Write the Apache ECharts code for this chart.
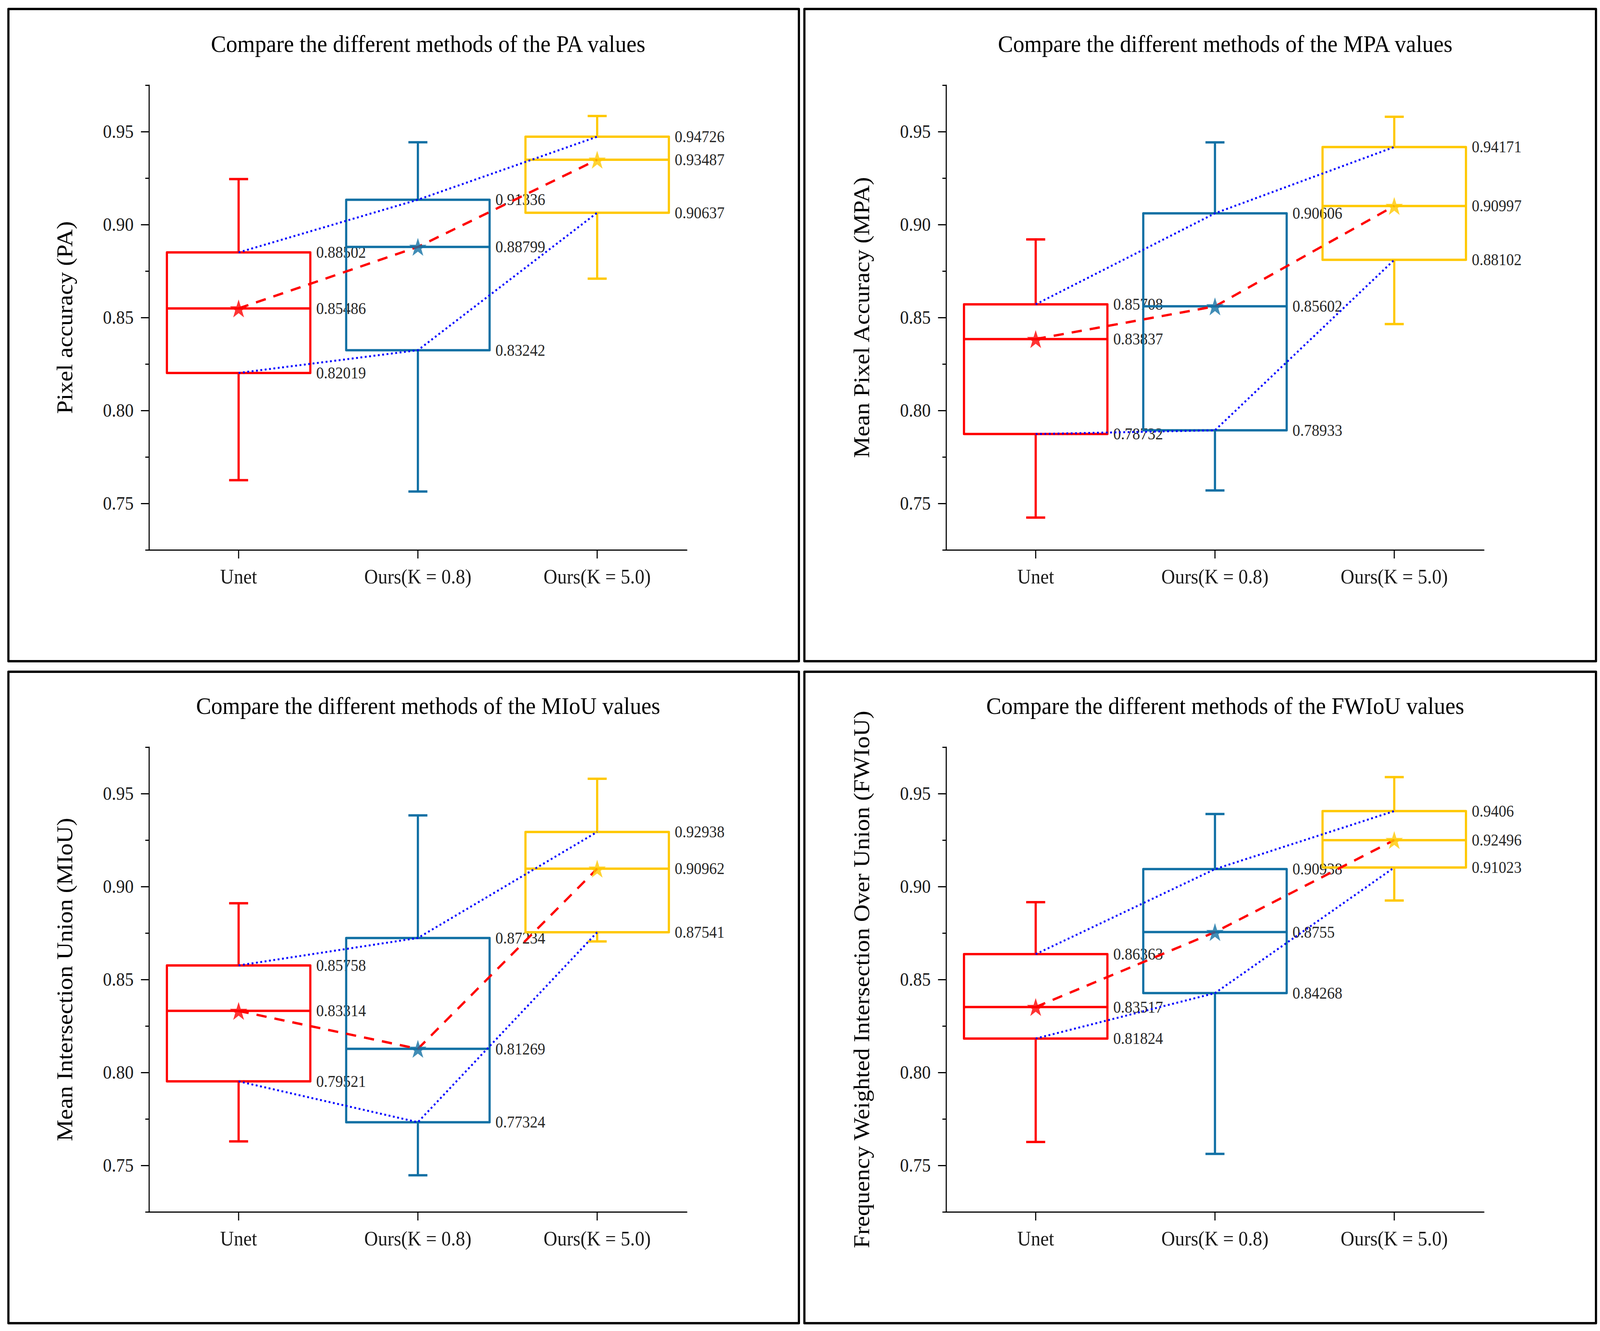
<!DOCTYPE html>
<html>
<head>
<meta charset="utf-8">
<script src="https://cdn.jsdelivr.net/npm/echarts@6/dist/echarts.min.js"></script>
<style>
html,body{margin:0;padding:0;background:#ffffff;overflow:hidden;}
#wrap{width:4382px;height:3408px;transform-origin:0 0;}
#chart{width:4382px;height:3408px;}
</style>
</head>
<body>
<div id="wrap"><div id="chart"></div></div>
<script>
// ---------- data ----------
const categories = ['Unet', 'Ours(K = 0.8)', 'Ours(K = 5.0)'];
const panelTitles = [
  'Compare the different methods of the PA values',
  'Compare the different methods of the MPA values',
  'Compare the different methods of the MIoU values',
  'Compare the different methods of the FWIoU values'
];
const axisNames = [
  'Pixel accuracy (PA)',
  'Mean Pixel Accuracy (MPA)',
  'Mean Intersection Union (MIoU)',
  'Frequency Weighted Intersection Over Union (FWIoU)'
];
const yMajorTicks = [0.75, 0.80, 0.85, 0.90, 0.95];
const yMinorTicks = [0.725, 0.775, 0.825, 0.875, 0.925, 0.975];

// PA
const paLow    = [0.7625, 0.7564, 0.8709];
const paQ1     = [0.82019, 0.83242, 0.90637];
const paMedian = [0.85486, 0.88799, 0.93487];
const paQ3     = [0.88502, 0.91336, 0.94726];
const paHigh   = [0.9245, 0.9443, 0.9584];
const paMean   = [0.8549, 0.8880, 0.9349];
// MPA
const mpaLow    = [0.7424, 0.7570, 0.8465];
const mpaQ1     = [0.78732, 0.78933, 0.88102];
const mpaMedian = [0.83837, 0.85602, 0.90997];
const mpaQ3     = [0.85708, 0.90606, 0.94171];
const mpaHigh   = [0.8920, 0.9442, 0.9580];
const mpaMean   = [0.8384, 0.8560, 0.9100];
// MIoU
const miouLow    = [0.7629, 0.7447, 0.8705];
const miouQ1     = [0.79521, 0.77324, 0.87541];
const miouMedian = [0.83314, 0.81269, 0.90962];
const miouQ3     = [0.85758, 0.87234, 0.92938];
const miouHigh   = [0.8910, 0.9383, 0.9580];
const miouMean   = [0.8331, 0.8127, 0.9096];
// FWIoU
const fwLow    = [0.7626, 0.7562, 0.8925];
const fwQ1     = [0.81824, 0.84268, 0.91023];
const fwMedian = [0.83517, 0.8755, 0.92496];
const fwQ3     = [0.86363, 0.90938, 0.9406];
const fwHigh   = [0.8916, 0.9390, 0.9589];
const fwMean   = [0.8352, 0.8755, 0.9250];

// ---------- fit the 4382x3408 drawing into the actual window ----------
(function fit() {
  const W = window.innerWidth || 4382, H = window.innerHeight || 3408;
  document.getElementById('wrap').style.transform = 'scale(' + (W / 4382) + ',' + (H / 3408) + ')';
})();

// ---------- styling / layout ----------
const FONT = "'Liberation Serif', 'Times New Roman', serif";
const boxColors = ['#ff0000', '#1170a4', '#ffc800'];
const metrics = [
  {low: paLow, q1: paQ1, med: paMedian, q3: paQ3, high: paHigh, mean: paMean},
  {low: mpaLow, q1: mpaQ1, med: mpaMedian, q3: mpaQ3, high: mpaHigh, mean: mpaMean},
  {low: miouLow, q1: miouQ1, med: miouMedian, q3: miouQ3, high: miouHigh, mean: miouMean},
  {low: fwLow, q1: fwQ1, med: fwMedian, q3: fwQ3, high: fwHigh, mean: fwMean}
];
const gridLefts = [408, 2591, 408, 2591];
const gridTops = [218, 218, 1913, 1913];
const GRID_W = 1473, GRID_H = 1190;
const panels = [
  {x: 20, y: 20, w: 2165, h: 1670},
  {x: 2200, y: 20, w: 2168, h: 1670},
  {x: 20, y: 1717, w: 2165, h: 1668},
  {x: 2200, y: 1717, w: 2168, h: 1668}
];
const STAR = 'path://M50,0 L61.8,35.1 L98.9,35.1 L68.9,56.8 L80.3,91.9 L50,70.2 L19.7,91.9 L31.1,56.8 L1.1,35.1 L38.2,35.1 Z';

const grid = [], xAxis = [], yAxis = [], series = [], graphic = [];

function renderBox(params, api) {
  const i = api.value(0);
  const color = boxColors[i];
  const pLow = api.coord([i, api.value(1)]);
  const pQ1 = api.coord([i, api.value(2)]);
  const pMed = api.coord([i, api.value(3)]);
  const pQ3 = api.coord([i, api.value(4)]);
  const pHigh = api.coord([i, api.value(5)]);
  const band = api.size([1, 0])[0];
  const half = band * 0.4;
  const cap = band * 0.053;
  const cx = pMed[0];
  const ls = {stroke: color, lineWidth: 6, fill: null, lineJoin: 'round', lineCap: 'butt'};
  return {
    type: 'group',
    children: [
      {type: 'line', shape: {x1: cx, y1: pQ3[1], x2: cx, y2: pHigh[1]}, style: ls},
      {type: 'line', shape: {x1: cx - cap, y1: pHigh[1], x2: cx + cap, y2: pHigh[1]}, style: ls},
      {type: 'line', shape: {x1: cx, y1: pQ1[1], x2: cx, y2: pLow[1]}, style: ls},
      {type: 'line', shape: {x1: cx - cap, y1: pLow[1], x2: cx + cap, y2: pLow[1]}, style: ls},
      {type: 'rect', shape: {x: cx - half, y: pQ3[1], width: 2 * half, height: pQ1[1] - pQ3[1]}, style: ls},
      {type: 'line', shape: {x1: cx - half, y1: pMed[1], x2: cx + half, y2: pMed[1]}, style: ls}
    ]
  };
}

function renderLabels(params, api) {
  const i = api.value(0);
  const band = api.size([1, 0])[0];
  const children = [];
  for (let k = 1; k <= 3; k++) {
    const v = api.value(k);
    const p = api.coord([i, v]);
    children.push({
      type: 'text',
      x: p[0] + band * 0.4 + 16,
      y: p[1],
      style: {text: String(v), fill: '#262626', fontSize: 42, fontFamily: FONT, align: 'left', verticalAlign: 'middle'}
    });
  }
  return {type: 'group', children: children};
}

metrics.forEach((m, g) => {
  grid.push({left: gridLefts[g], top: gridTops[g], width: GRID_W, height: GRID_H, containLabel: false});
  xAxis.push({
    gridIndex: g, type: 'category', data: categories, boundaryGap: true,
    axisLine: {show: true, lineStyle: {color: '#000', width: 3}},
    axisTick: {show: true, alignWithLabel: true, length: 22, lineStyle: {color: '#000', width: 3}},
    axisLabel: {fontSize: 52, fontFamily: FONT, color: '#1a1a1a', margin: 42},
    splitLine: {show: false}
  });
  yAxis.push({
    gridIndex: g, type: 'value', position: 'left', offset: 0,
    min: 0.725, max: 0.975, interval: 0.025,
    axisLine: {show: true, lineStyle: {color: '#000', width: 3}},
    axisTick: {show: true, customValues: yMajorTicks, length: 22, lineStyle: {color: '#000', width: 3}},
    axisLabel: {customValues: yMajorTicks, formatter: v => Number(v).toFixed(2), fontSize: 48, fontFamily: FONT, color: '#1a1a1a', margin: 42},
    splitLine: {show: false},
    name: axisNames[g], nameLocation: 'middle', nameGap: 200,
    nameTextStyle: {fontSize: 62, fontFamily: FONT, color: '#000'}
  });
  yAxis.push({
    gridIndex: g, type: 'value', position: 'left', offset: 0,
    min: 0.725, max: 0.975, interval: 0.025,
    axisLine: {show: false},
    axisTick: {show: true, customValues: yMinorTicks, length: 10, lineStyle: {color: '#000', width: 3}},
    axisLabel: {show: false},
    splitLine: {show: false}
  });
  const yi = g * 2;
  series.push({
    type: 'custom', xAxisIndex: g, yAxisIndex: yi, z: 2, silent: true,
    renderItem: renderLabels,
    data: categories.map((c, i) => [i, m.q1[i], m.med[i], m.q3[i]])
  });
  series.push({
    type: 'custom', xAxisIndex: g, yAxisIndex: yi, z: 3, silent: true,
    renderItem: renderBox,
    data: categories.map((c, i) => [i, m.low[i], m.q1[i], m.med[i], m.q3[i], m.high[i]])
  });
  [m.q3, m.q1].forEach(arr => {
    series.push({
      type: 'line', xAxisIndex: g, yAxisIndex: yi, z: 4, silent: true,
      data: arr, symbol: 'none',
      lineStyle: {color: '#0000ff', width: 5, type: [5, 7]}
    });
  });
  series.push({
    type: 'line', xAxisIndex: g, yAxisIndex: yi, z: 5, silent: true,
    data: m.mean, symbol: 'none',
    lineStyle: {color: '#ff0000', width: 6, type: [28, 22]}
  });
  series.push({
    type: 'scatter', xAxisIndex: g, yAxisIndex: yi, z: 6, silent: true,
    symbol: STAR, symbolSize: [48, 46],
    data: m.mean.map((v, i) => ({value: v, itemStyle: {color: boxColors[i]}}))
  });
  const p = panels[g];
  graphic.push({
    type: 'rect', left: p.x, top: p.y, silent: true,
    shape: {x: 0, y: 0, width: p.w, height: p.h},
    style: {fill: null, stroke: '#000', lineWidth: 6, lineJoin: 'round'}
  });
  graphic.push({
    type: 'text', silent: true,
    x: gridLefts[g] + GRID_W / 2 + 28, y: gridTops[g] - 106,
    style: {text: panelTitles[g], fill: '#000', fontSize: 62, fontFamily: FONT, align: 'center', verticalAlign: 'middle'}
  });
});

const chart = echarts.init(document.getElementById('chart'), null, {renderer: 'svg', width: 4382, height: 3408});
chart.setOption({
  backgroundColor: '#ffffff',
  animation: false,
  grid: grid,
  xAxis: xAxis,
  yAxis: yAxis,
  series: series,
  graphic: graphic
});
</script>
</body>
</html>
